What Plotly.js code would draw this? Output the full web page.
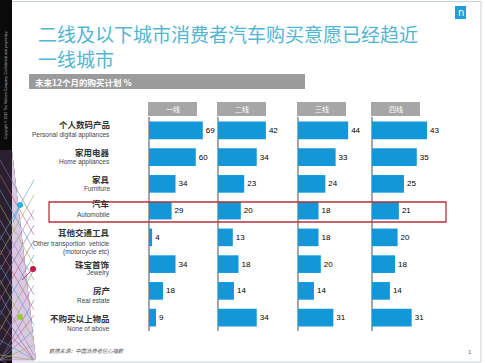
<!DOCTYPE html>
<html>
<head>
<meta charset="utf-8">
<script src="https://cdn.plot.ly/plotly-3.0.1.min.js"></script>
<style>html,body{margin:0;padding:0;background:#fff;}#chart{width:485px;height:363px;}</style>
</head>
<body>
<div id="chart"></div>
<script>
// ---- data ----
const categoriesCN = ["个人数码产品","家用电器","家具","汽车","其他交通工具","珠宝首饰","房产","不购买以上物品"];
const categoriesEN = ["Personal digital appliances","Home appliances","Furniture","Automobile","Other transportion  vehicle<br>(motorcycle etc)","Jewelry","Real estate","None of above"];
const tierNames = ["一线","二线","三线","四线"];
const tier1 = [69,60,34,29,4,34,18,9];
const tier2 = [42,34,23,20,13,18,14,34];
const tier3 = [44,33,24,18,18,20,14,31];
const tier4 = [43,35,25,21,20,18,14,31];
const titleLine1 = "二线及以下城市消费者汽车购买意愿已经趋近";
const titleLine2 = "一线城市";
const subtitle = "未来12个月的购买计划 %";
const sourceText = "数据来源：中国消费者信心指数";

// ---- layout helpers (styling only) ----
const W = 485, H = 363;
const px = v => v / W;
const py = v => 1 - v / H;
const series = [tier1, tier2, tier3, tier4];
const panels = [
  {x0:149, x1:215, scale:0.78},
  {x0:218, x1:293, scale:1.14},
  {x0:298, x1:370, scale:1.14},
  {x0:372, x1:460, scale:1.28}
];
// vertical pixel offsets of row labels relative to bar centre (Chinese, English)
const labelOffsets = [[-6.5,4.5],[-5,5],[-5,5],[-8,4],[-5.5,10.5],[-0.5,8.5],[-0.5,9.5],[0.5,10.5]];
const barColor = "#1497D8";
const cjk = "Noto Sans CJK SC, Liberation Sans, sans-serif";

const traces = series.map((vals, i) => ({
  type: "bar",
  orientation: "h",
  x: vals,
  y: categoriesCN,
  xaxis: i === 0 ? "x" : "x" + (i + 1),
  yaxis: "y",
  marker: {color: barColor},
  text: vals.map(String),
  textposition: "outside",
  cliponaxis: false,
  textfont: {size: 8, color: "#000", family: "Liberation Sans, Arial, sans-serif"},
  hoverinfo: "skip",
  showlegend: false
}));

const layout = {
  width: W, height: H,
  margin: {l:0, r:0, t:0, b:0},
  paper_bgcolor: "#fff",
  plot_bgcolor: "rgba(0,0,0,0)",
  bargap: 0.34,
  yaxis: {
    domain: [py(331), py(117)],
    type: "category",
    categoryorder: "array",
    categoryarray: categoriesCN,
    autorange: "reversed",
    showticklabels: false, showgrid: false, zeroline: false, showline: false,
    anchor: "x", fixedrange: true
  },
  annotations: [],
  shapes: []
};

panels.forEach((p, i) => {
  const key = i === 0 ? "xaxis" : "xaxis" + (i + 1);
  layout[key] = {
    domain: [px(p.x0), px(p.x1)],
    range: [0, (p.x1 - p.x0) / p.scale],
    showgrid: false, showticklabels: false, showline: false,
    zeroline: true, zerolinecolor: "#A6A6A6", zerolinewidth: 2,
    anchor: "y", fixedrange: true
  };
  layout.shapes.push({type:"rect", xref:"paper", yref:"paper",
    x0: px(p.x0 - 1), x1: px(p.x0 + 48), y0: py(116), y1: py(102),
    fillcolor:"#A6A6A6", line:{width:0}});
  layout.annotations.push({xref:"paper", yref:"paper", x: px(p.x0 + 23.5), y: py(109),
    text: tierNames[i], showarrow:false, font:{size:7, color:"#fff", family:cjk},
    xanchor:"center", yanchor:"middle"});
});

// row labels
categoriesCN.forEach((c, k) => {
  const off = labelOffsets[k];
  layout.annotations.push({xref:"paper", yref:"y", x: px(111), y: c,
    text: "<b>" + c + "</b>", showarrow:false, xanchor:"right", yanchor:"middle",
    yshift: -off[0], borderpad:0,
    font:{size:8.5, color:"#333", family:cjk}});
  layout.annotations.push({xref:"paper", yref:"y", x: px(111), y: c,
    text: categoriesEN[k], showarrow:false, xanchor:"right", yanchor:"middle", align:"right",
    yshift: -off[1], borderpad:0,
    font:{size:6.5, color:"#444", family:"Liberation Sans, Arial, sans-serif"}});
});

// title (two lines in one text block)
layout.annotations.push({xref:"paper", yref:"paper", x: px(37), y: py(46), text: titleLine1 + "<br>" + titleLine2,
  borderpad:0, align:"left",
  showarrow:false, xanchor:"left", yanchor:"middle", font:{size:19, color:"#52B5D2", family:cjk}});

// subtitle banner
layout.shapes.push({type:"rect", xref:"paper", yref:"paper", x0:px(29), x1:px(305), y0:py(89), y1:py(74),
  fillcolor:"#9B9B9B", line:{width:0}});
layout.annotations.push({xref:"paper", yref:"paper", x: px(33), y: py(81.5), text: "<b>" + subtitle + "</b>",
  showarrow:false, xanchor:"left", yanchor:"middle", font:{size:8.5, color:"#fff", family:cjk}});

// highlight box around automobile row
layout.shapes.push({type:"rect", xref:"paper", yref:"paper", x0:px(49), x1:px(446), y0:py(222), y1:py(202),
  fillcolor:"rgba(0,0,0,0)", line:{color:"#B5323C", width:1.3}});

// page border
layout.shapes.push({type:"rect", xref:"paper", yref:"paper", x0:px(0.5), x1:px(481), y0:py(362), y1:py(1.5),
  fillcolor:"rgba(0,0,0,0)", line:{color:"#C9D3DA", width:1}, layer:"below"});

// logo
layout.shapes.push({type:"rect", xref:"paper", yref:"paper", x0:px(455), x1:px(466), y0:py(19), y1:py(6),
  fillcolor:"#1CA0DA", line:{width:0}});
layout.annotations.push({xref:"paper", yref:"paper", x: px(460.5), y: py(12.5), text: "n",
  showarrow:false, xanchor:"center", yanchor:"middle", font:{size:10, color:"#fff", family:"DejaVu Sans"}});

// left decoration
layout.shapes.push({type:"rect", xref:"paper", yref:"paper", x0:0, x1:px(12), y0:0, y1:1,
  fillcolor:"#0b0b0b", line:{width:0}});
layout.shapes.push({type:"path", xref:"paper", yref:"paper",
  path:`M ${px(12)} ${py(150)} L ${px(36)} ${py(360)} L ${px(0)} ${py(360)} L ${px(0)} ${py(150)} Z`,
  fillcolor:"#2a2030", line:{width:0}});
layout.shapes.push({type:"path", xref:"paper", yref:"paper",
  path:`M ${px(12)} ${py(150)} L ${px(36)} ${py(360)} L ${px(12)} ${py(360)} Z`,
  fillcolor:"#d9c9e3", line:{width:0}});
const meshCols = ["#8a6aa8","#c05a7a","#5a9ac0","#9ab04a","#b07ac0"];
for (let k = 0; k < 14; k++) {
  const ya = 160 + k * 15;
  layout.shapes.push({type:"line", xref:"paper", yref:"paper",
    x0: px(0), y0: py(ya), x1: px(34), y1: py(Math.min(ya + 60, 360)),
    line:{color: meshCols[k % 5], width:0.6}});
  layout.shapes.push({type:"line", xref:"paper", yref:"paper",
    x0: px(34), y0: py(ya + 20), x1: px(0), y1: py(Math.min(ya + 80, 360)),
    line:{color: meshCols[(k + 2) % 5], width:0.6}});
}
[[20,205,"#2BB6D8",13,222],[33,269,"#C0184A",22,280],[20,317,"#9CC63A",14,322]].forEach(d => {
  layout.shapes.push({type:"line", xref:"paper", yref:"paper", x0:px(d[0]), y0:py(d[1]), x1:px(d[3]), y1:py(d[4]),
    line:{color:d[2], width:0.8}});
  layout.shapes.push({type:"circle", xref:"paper", yref:"paper", x0:px(d[0]-3), x1:px(d[0]+3), y0:py(d[1]+3), y1:py(d[1]-3),
    fillcolor:d[2], line:{width:0}});
});
layout.annotations.push({xref:"paper", yref:"paper", x: px(6), y: py(85), text: "Copyright © 2012 The Nielsen Company. Confidential and proprietary.",
  showarrow:false, textangle:-90, xanchor:"center", yanchor:"middle", font:{size:3.5, color:"#bbb", family:"Liberation Sans"}});

// source and page number
layout.annotations.push({xref:"paper", yref:"paper", x: px(47), y: py(351), text: "<i>" + sourceText + "</i>",
  showarrow:false, xanchor:"left", yanchor:"middle", font:{size:5.3, color:"#555", family:cjk}});
layout.annotations.push({xref:"paper", yref:"paper", x: px(470), y: py(352), text: "1",
  showarrow:false, xanchor:"center", yanchor:"middle", font:{size:6, color:"#666", family:"Liberation Sans"}});

Plotly.newPlot("chart", traces, layout, {staticPlot:true, displayModeBar:false});
</script>
</body>
</html>
